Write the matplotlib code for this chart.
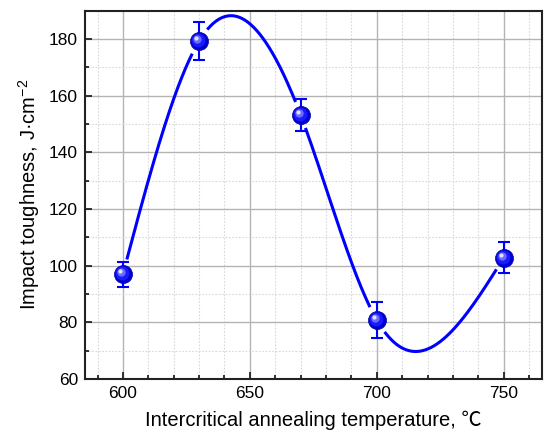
import numpy as np
import matplotlib
matplotlib.use("Agg")
import matplotlib.pyplot as plt
from matplotlib.ticker import MultipleLocator
from matplotlib.transforms import offset_copy

temp = [600, 630, 670, 700, 750]
tough = [97.0, 179.3, 153.2, 80.8, 102.8]
err = [4.4, 6.6, 5.5, 6.2, 5.5]


def natural_spline(x, y, xs):
    """Natural cubic spline through (x, y), evaluated at xs."""
    x = np.asarray(x, float); y = np.asarray(y, float)
    n = len(x)
    h = np.diff(x)
    A = np.zeros((n, n)); b = np.zeros(n)
    A[0, 0] = A[-1, -1] = 1.0
    for i in range(1, n - 1):
        A[i, i - 1] = h[i - 1]
        A[i, i] = 2 * (h[i - 1] + h[i])
        A[i, i + 1] = h[i]
        b[i] = 6 * ((y[i + 1] - y[i]) / h[i] - (y[i] - y[i - 1]) / h[i - 1])
    m = np.linalg.solve(A, b)
    idx = np.clip(np.searchsorted(x, xs) - 1, 0, n - 2)
    t = xs - x[idx]; hh = h[idx]
    a = (m[idx + 1] - m[idx]) / (6 * hh)
    c = (y[idx + 1] - y[idx]) / hh - hh * (2 * m[idx] + m[idx + 1]) / 6
    return y[idx] + c * t + m[idx] / 2 * t ** 2 + a * t ** 3


plt.rcParams["font.family"] = ["Liberation Sans", "Noto Sans CJK SC", "DejaVu Sans"]
plt.rcParams["mathtext.fontset"] = "custom"
plt.rcParams["mathtext.rm"] = "Liberation Sans"
plt.rcParams["mathtext.it"] = "Liberation Sans"

fig = plt.figure(figsize=(5.44, 4.34), dpi=100)
ax = fig.add_axes([0.156, 0.127, 0.84, 0.848])
ax.set_xlim(585, 765)
ax.set_ylim(60, 190)

ax.xaxis.set_major_locator(MultipleLocator(50))
ax.xaxis.set_minor_locator(MultipleLocator(10))
ax.yaxis.set_major_locator(MultipleLocator(20))
ax.yaxis.set_minor_locator(MultipleLocator(10))
ax.grid(True, which="major", color="#b4b4b4", lw=1.0)
ax.grid(True, which="minor", color="#d8d8d8", lw=0.8, ls=(0, (1.5, 1.5)))
ax.set_axisbelow(True)
ax.tick_params(which="both", direction="in", top=False, right=False,
               labelsize=12.5, width=1.3, pad=5, color="#222222")
ax.tick_params(which="major", length=5)
ax.tick_params(which="minor", length=3)
for s in ax.spines.values():
    s.set_linewidth(1.5)
    s.set_color("#222222")

# spline with gaps around the markers
xs = np.linspace(temp[0], temp[-1], 800)
ys = natural_spline(temp, tough, xs)
fig.canvas.draw()
pts = ax.transData.transform(np.column_stack([xs, ys]))
cen = ax.transData.transform(np.column_stack([temp, tough]))
d = np.min(np.hypot(pts[:, None, 0] - cen[None, :, 0],
                    pts[:, None, 1] - cen[None, :, 1]), axis=1)
ys_gap = np.where(d < 15, np.nan, ys)
ax.plot(xs, ys_gap, color="#0000ff", lw=2.2, zorder=3)

ax.errorbar(temp, tough, yerr=err, fmt="none", ecolor="#0000ff",
            elinewidth=1.5, capsize=4, capthick=1.5, zorder=4)
# sphere-like markers
ax.plot(temp, tough, "o", ms=13, color="#0000cc", mec="#0000aa", mew=0.5, zorder=5)
ax.plot(temp, tough, "o", ms=10, color="#1a1aff", mew=0, zorder=6,
        transform=offset_copy(ax.transData, fig=fig, x=-0.6, y=0.6, units="points"))
ax.plot(temp, tough, "o", ms=6, color="#6b6bff", mew=0, zorder=7,
        transform=offset_copy(ax.transData, fig=fig, x=-1.5, y=1.5, units="points"))
ax.plot(temp, tough, "o", ms=3, color="#e0e0ff", mew=0, zorder=8,
        transform=offset_copy(ax.transData, fig=fig, x=-2.2, y=2.2, units="points"))

ax.set_xlabel("Intercritical annealing temperature, \u2103", fontsize=14.5, labelpad=7)
ax.set_ylabel("Impact toughness, J\u00b7cm$^{-2}$", fontsize=14.5, labelpad=5)

fig.savefig("out.png", dpi=100)
